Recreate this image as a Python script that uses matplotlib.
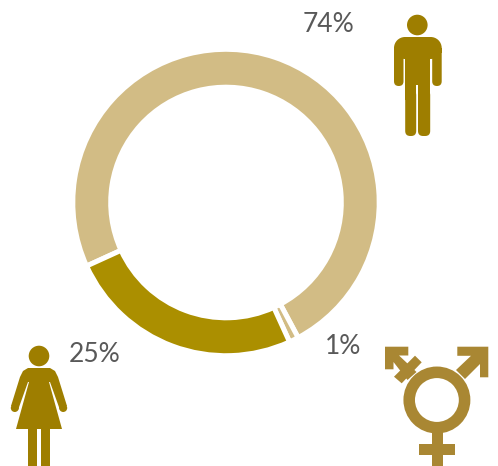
"""Gender split donut with pictogram icons."""
import matplotlib
matplotlib.use("Agg")
import matplotlib.pyplot as plt
from matplotlib.patches import Circle, FancyBboxPatch, Polygon

W, H = 498, 466

shares = [74, 1, 25]
share_labels = ["74%", "1%", "25%"]
slice_colors = ["#D2BC85", "#D2BC85", "#AB8F00"]

MAN = "#9E7E00"
TRANS = "#A98733"
TEXT = "#595959"


def fy(y):
    # picture pixels run downwards, the axes upwards
    return H - y


def rbox(ax, x0, y0, x1, y1, r, color):
    ax.add_patch(FancyBboxPatch((x0 + r, fy(y1) + r), x1 - x0 - 2 * r, y1 - y0 - 2 * r,
                                boxstyle=f"round,pad={r},rounding_size={r}",
                                fc=color, ec="none"))


def poly(ax, pts, color):
    ax.add_patch(Polygon([(x, fy(y)) for x, y in pts], closed=True, fc=color, ec="none"))


def dot(ax, x, y, r, color):
    ax.add_patch(Circle((x, fy(y)), r, fc=color, ec="none"))


def draw_man(ax):
    dot(ax, 417.3, 25, 10.3, MAN)
    # shoulders
    dot(ax, 405, 48, 11, MAN)
    dot(ax, 430.7, 48, 11, MAN)
    poly(ax, [(405, 37), (430.7, 37), (430.7, 53), (405, 53)], MAN)
    # arms
    rbox(ax, 394, 46, 403.5, 86, 4.7, MAN)
    rbox(ax, 432.2, 46, 441.7, 86, 4.7, MAN)
    poly(ax, [(394, 48), (441.7, 48), (441.7, 53), (394, 53)], MAN)
    # torso and legs
    poly(ax, [(405.2, 45), (430.2, 45), (430.2, 100), (418, 100), (418, 85), (416.2, 85),
              (416.2, 100), (405.2, 100)], MAN)
    rbox(ax, 405.2, 90, 416.2, 136, 5, MAN)
    rbox(ax, 418, 90, 430.2, 136, 5, MAN)


def draw_woman(ax):
    dot(ax, 39, 356, 10.3, MAN)
    poly(ax, [(20, 377), (23, 371), (28, 368), (50, 368), (55, 371), (58, 377),
              (67, 406), (60, 410), (50, 382), (49, 382), (62, 429), (16, 429),
              (29, 382), (28, 382), (18, 410), (11, 406)], MAN)
    dot(ax, 14.8, 408, 4, MAN)
    dot(ax, 63.2, 408, 4, MAN)
    poly(ax, [(28, 425), (37, 425), (37, 466), (28, 466)], MAN)
    poly(ax, [(41, 425), (50, 425), (50, 466), (41, 466)], MAN)


def draw_trans(ax):
    ax.add_patch(Circle((436.9, fy(400)), 27.7, fc="none", ec=TRANS, lw=8.3))
    poly(ax, [(431.5, 430), (442.5, 430), (442.5, 466), (431.5, 466)], TRANS)
    poly(ax, [(418.5, 444), (455, 444), (455, 455), (418.5, 455)], TRANS)
    # right arrow
    poly(ax, [(457.3, 346.7), (488.3, 346.7), (488.3, 377.3), (480, 377.3), (480, 364),
              (465, 379), (456, 370), (471, 355.8), (457.3, 355.8)], TRANS)
    # left arrow
    poly(ax, [(385, 346.7), (408.3, 346.7), (408.3, 355.5), (399, 355.5), (416.5, 372),
              (407.5, 380), (393.5, 362), (393.5, 369.3), (385, 369.3)], TRANS)
    # cross stroke on the left arrow
    poly(ax, [(394, 376.7), (415, 355.7), (421.7, 362.3), (401.7, 383.3)], TRANS)


fig = plt.figure(figsize=(W / 100, H / 100), dpi=100)
ax = fig.add_axes([0, 0, 1, 1])

ax.pie(shares, colors=slice_colors, center=(226, fy(202.5)), radius=153.2,
       startangle=-155.5, counterclock=False, frame=True,
       wedgeprops=dict(width=37.9, edgecolor="white", linewidth=3.6))

ax.set_xlim(0, W)
ax.set_ylim(0, H)
ax.set_aspect("equal")
ax.axis("off")

draw_man(ax)
draw_woman(ax)
draw_trans(ax)

label_pos = [(328, 24), (343.5, 346), (94.5, 354)]
for lab, (x, y) in zip(share_labels, label_pos):
    ax.text(x, fy(y), lab, ha="center", va="center", color=TEXT,
            fontsize=19, family="Lato")

fig.savefig("out.png", dpi=100)
plt.close(fig)
